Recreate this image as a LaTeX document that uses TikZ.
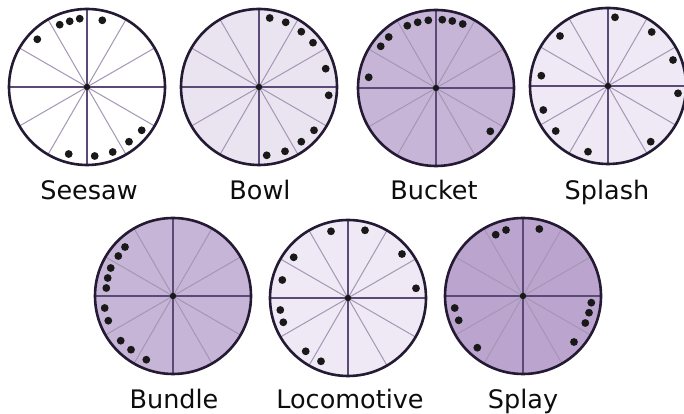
\documentclass[tikz,border=0pt]{standalone}
\usepackage{fontspec}
\setmainfont{DejaVu Sans}
\definecolor{rimc}{HTML}{241A33}
\definecolor{majc}{HTML}{5B4A78}
\definecolor{minc}{HTML}{A497B3}
\definecolor{fwhite}{HTML}{FFFFFF}
\definecolor{flight}{HTML}{EAE4F1}
\definecolor{fpale}{HTML}{EEE9F5}
\definecolor{fmid}{HTML}{C7B5D8}
\definecolor{fdark}{HTML}{BBA5CF}
\tikzset{
  rim/.style={draw=rimc, line width=2.6pt},
  majorspoke/.style={draw=majc, line width=1.3pt},
  minorspoke/.style={draw=minc, line width=1pt},
  dotc/.style={fill=black!90},
  lab/.style={anchor=base, text=black!95, font=\fontsize{25.5}{30}\selectfont, inner sep=0pt}
}
\newcommand{\drawwheel}[4]{%
  \coordinate (#1) at (#2);
  \begin{scope}[shift={(#1)}]
    \fill[#3] (0,0) circle (78pt);
    \foreach \a in {30,60,120,150,210,240,300,330}
      \draw[minorspoke] (0,0) -- (\a:78pt);
    \draw[majorspoke] (-78pt,0) -- (78pt,0);
    \draw[majorspoke] (0,-78pt) -- (0,78pt);
    \draw[rim] (0,0) circle (78pt);
    \fill[dotc] (0,0) circle (3.2pt);
    \foreach \x/\y in {#4}
      \fill[dotc] (\x pt,-\y pt) circle (3.9pt);
  \end{scope}}
\begin{document}
\begin{tikzpicture}
\useasboundingbox[fill=white] (0,0) rectangle (684pt,414pt);
% coordinates below are given in image pixels (y measured downward)
\begin{scope}[x=1pt,y=-1pt,shift={(0pt,414pt)}]
\drawwheel{seesaw}{87,87}{fwhite}{-27.3/-62.3, -17.3/-65.7, -7.3/-68.3, 15.3/-66.7, -49.7/-47.7, 54.7/43.3, 42/54.7, 25.7/65, 7.7/69, -18.3/67}
\drawwheel{bowl}{259,87}{flight}{10.7/-69, 26.7/-64.7, 42.3/-55.3, 54/-44.3, 66.7/-18.3, 69.7/8.3, 55/43.3, 42.3/54.7, 26/64.3, 7.7/68.3}
\drawwheel{bucket}{436,88}{fmid}{-28.7/-62.3, -18.3/-65.7, -7.7/-67.7, 6.3/-68.3, 16.3/-67, 26.7/-64, -47.3/-51, -55.3/-41.7, -67.3/-10.7, 54.3/43.3}
\drawwheel{splash}{608,86}{fpale}{7/-68.7, 43.7/-54, 65/-26, 70/7.3, 42.7/55.7, -20/65.7, -52.3/45, -64.7/24, -66.7/-10.3, -48/-50}
\drawwheel{bundle}{173,296}{fmid}{-48/-49, -54.7/-40, -62.3/-28, -65.3/-18, -66.7/-8, -68.3/12, -64.7/24.7, -52.3/44.7, -42/53.7, -26.7/63.7}
\drawwheel{locomotive}{348,298}{fpale}{-17/-66.7, 17/-67.7, -54.3/-40.7, 54/-44, -65.7/-18, 68/-9.7, -67.7/12, -64.7/24.3, -42.3/53.3, -27/63.3}
\drawwheel{splay}{523,296}{fdark}{-27.3/-61.3, -17/-66, 16.3/-67, 68.3/6.7, 66/16.7, 62.3/27, 51/46, -68.3/12, -64.3/24.3, -45.7/51.7}
\node[lab] (seesawlab) at (89,200) {Seesaw};
\node[lab] (bowllab) at (260,200) {Bowl};
\node[lab] (bucketlab) at (434,200) {Bucket};
\node[lab] (splashlab) at (607,200) {Splash};
\node[lab] (bundlelab) at (174,409) {Bundle};
\node[lab] (locomotivelab) at (350,409) {Locomotive};
\node[lab] (splaylab) at (523,409) {Splay};
\end{scope}
\end{tikzpicture}
\end{document}
